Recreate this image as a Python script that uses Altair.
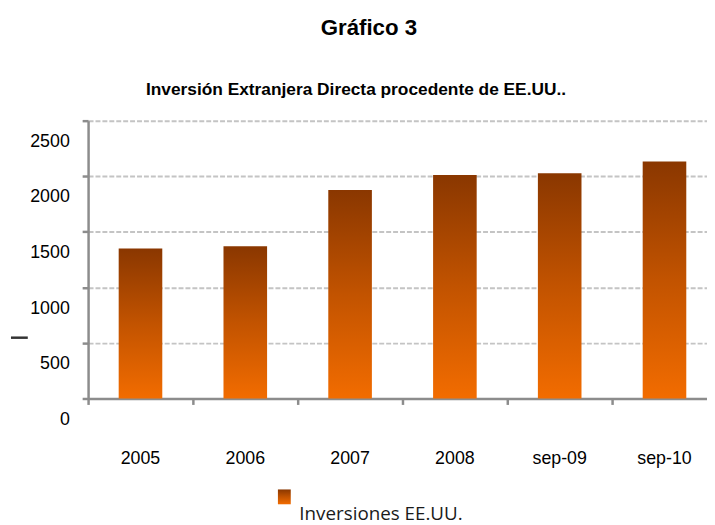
import altair as alt
import pandas as pd

# ---- data ----
categories = ["2005", "2006", "2007", "2008", "sep-09", "sep-10"]
values = [1350, 1370, 1875, 2010, 2026, 2133]
y_ticks = [0, 500, 1000, 1500, 2000, 2500]
title_text = "Gráfico 3"
subtitle_text = "Inversión Extranjera Directa procedente de EE.UU.."
legend_label = "Inversiones EE.UU."

df = pd.DataFrame({"cat": categories, "value": values, "idx": list(range(len(categories)))})

FONT = "Liberation Sans"
AXIS_COLOR = "#8c8c8c"
grad = alt.Gradient(
    gradient="linear", x1=0, x2=0, y1=0, y2=1,
    stops=[alt.GradientStop(color="#8a3700", offset=0),
           alt.GradientStop(color="#c25300", offset=0.5),
           alt.GradientStop(color="#f26c00", offset=1)],
)

# one category step = 106 px; the last band runs past the right edge as in the reference
xscale = alt.Scale(domain=[-0.5, 5.5], range=[0, 636], nice=False, zero=False)
yscale = alt.Scale(domain=[0, 2500], nice=False)

base = alt.Chart(df).transform_calculate(
    x0="datum.idx - 0.208", x1="datum.idx + 0.208", zero="0"
)

bars = base.mark_rect(color=grad).encode(
    x=alt.X("x0:Q", scale=xscale, axis=alt.Axis(
        values=[-0.5, 0.5, 1.5, 2.5, 3.5, 4.5], labels=False, grid=False,
        ticks=True, tickSize=6, tickWidth=2.5, tickColor=AXIS_COLOR,
        domainColor=AXIS_COLOR, domainWidth=2.5, title=None)),
    x2="x1:Q",
    y=alt.Y("value:Q", scale=yscale, axis=alt.Axis(
        values=y_ticks, format="d", grid=True, gridDash=[5, 2], gridColor="#c4c4c4",
        gridWidth=2, ticks=True, tickSize=6, tickWidth=2.5, tickColor=AXIS_COLOR,
        domainColor=AXIS_COLOR, domainWidth=2.5, labelFont=FONT, labelFontSize=18,
        labelColor="#000", labelPadding=13, labelOffset=21, title=None)),
    y2="zero:Q",
)

xlabels = alt.Chart(df).mark_text(font=FONT, fontSize=18, color="#000",
                                  baseline="alphabetic", align="center").encode(
    x=alt.X("idx:Q", scale=xscale), y=alt.value(347.7), text="cat:N")

title = alt.Chart(pd.DataFrame({"t": [title_text]})).mark_text(
    font=FONT, fontSize=22.5, fontWeight="bold", color="#000", align="center",
    baseline="alphabetic").encode(x=alt.value(284), y=alt.value(-86.5), text="t:N")

subtitle = alt.Chart(pd.DataFrame({"t": [subtitle_text]})).mark_text(
    font=FONT, fontSize=17.5, fontWeight="bold", color="#000", align="center",
    baseline="alphabetic").encode(x=alt.value(271), y=alt.value(-26.3), text="t:N")

swatch = alt.Chart(pd.DataFrame({"t": [legend_label]})).mark_rect(color=grad).encode(
    x=alt.value(192), x2=alt.value(205), y=alt.value(373), y2=alt.value(388))

legend_text = alt.Chart(pd.DataFrame({"t": [legend_label]})).mark_text(
    font="Open Sans", fontSize=19, color="#1a1a1a", align="left", baseline="alphabetic").encode(
    x=alt.value(213.7), y=alt.value(404.3), text="t:N")

ymark = alt.Chart(pd.DataFrame({"t": [legend_label]})).mark_rule(
    color="#333", strokeWidth=2.5).encode(
    x=alt.value(-78), x2=alt.value(-61), y=alt.value(219.5))

chart = alt.layer(bars, xlabels, title, subtitle, swatch, legend_text, ymark).properties(
    width=624, height=281,
    autosize=alt.AutoSizeParams(type="none"),
    padding={"left": 81, "top": 111, "right": 2, "bottom": 125},
    background="white",
).configure_view(stroke=None)

chart.save("out.html", embed_options={"renderer": "svg", "actions": False})
